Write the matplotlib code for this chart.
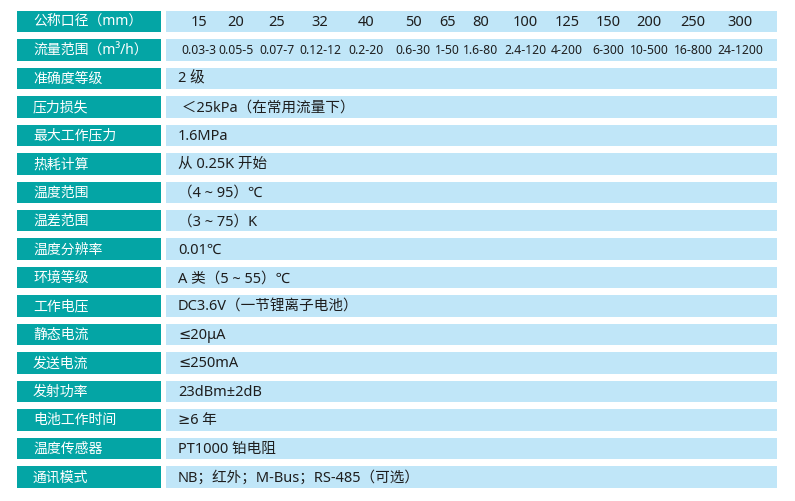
import matplotlib
matplotlib.use('Agg')
import matplotlib.pyplot as plt
from matplotlib.patches import Rectangle

plt.rcParams['font.family'] = ['Noto Sans', 'DejaVu Sans', 'Noto Sans CJK SC']

# table content
labels = ['公称口径（mm）', '流量范围（m³/h）', '准确度等级', '压力损失', '最大工作压力',
          '热耗计算', '温度范围', '温差范围', '温度分辨率', '环境等级', '工作电压',
          '静态电流', '发送电流', '发射功率', '电池工作时间', '温度传感器', '通讯模式']
diameters = ['15', '20', '25', '32', '40', '50', '65', '80', '100', '125', '150',
             '200', '250', '300']
flow_ranges = ['0.03-3', '0.05-5', '0.07-7', '0.12-12', '0.2-20', '0.6-30', '1-50',
               '1.6-80', '2.4-120', '4-200', '6-300', '10-500', '16-800', '24-1200']
values = ['2 级', ' ＜25kPa（在常用流量下）', '1.6MPa', '从 0.25K 开始', '（4 ~ 95）℃',
          '（3 ~ 75）K', '0.01℃', 'A 类（5 ~ 55）℃', 'DC3.6V（一节锂离子电池）',
          '≤20μA', '≤250mA', '23dBm±2dB', '≥6 年', 'PT1000 铂电阻',
          'NB；红外；M-Bus；RS-485（可选）']

# layout (pixels)
col_x = [199, 236, 277, 320, 366, 413, 447, 481, 525, 567, 608, 649, 693, 740]
W, H = 795, 502
top0, pitch, row_h = 11.8, 28.45, 21.5
left_x0, left_x1 = 17, 161.3
right_x0, right_x1 = 165.7, 776.7
teal = '#04A5A5'
light = '#C0E6F8'
ink = '#1e1e1e'

fig = plt.figure(figsize=(W / 100, H / 100), dpi=100)
ax = fig.add_axes([0, 0, 1, 1])
ax.set_xlim(0, W)
ax.set_ylim(H, 0)
ax.axis('off')

for i, lab in enumerate(labels):
    y = top0 + i * pitch
    ax.add_patch(Rectangle((left_x0, y), left_x1 - left_x0, row_h, color=teal, lw=0))
    ax.add_patch(Rectangle((right_x0, y), right_x1 - right_x0, row_h, color=light, lw=0))
    ax.text(33, y + row_h / 2, lab, color='white', fontsize=10, va='center', ha='left')

yc = top0 + row_h / 2
for x, d in zip(col_x, diameters):
    ax.text(x, yc, d, fontsize=10.5, color=ink, va='center', ha='center')

yc = top0 + pitch + row_h / 2
for x, f in zip(col_x, flow_ranges):
    ax.text(x, yc, f, fontsize=8.8, color=ink, va='center', ha='center')

for i, v in enumerate(values):
    yc = top0 + (i + 2) * pitch + row_h / 2
    ax.text(178, yc, v, fontsize=10.5, color=ink, va='center', ha='left')

fig.savefig('out.png', dpi=100)
